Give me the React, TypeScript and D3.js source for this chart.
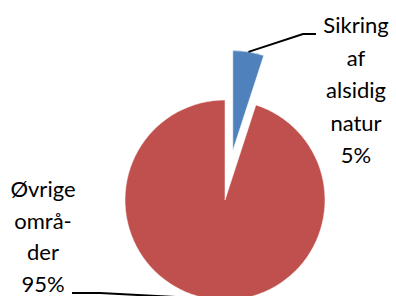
import React from "react";
import * as d3 from "d3";

const categories = ["Sikring af alsidig natur", "Øvrige områder"];
const values = [5, 95];
const percentLabels = ["5%", "95%"];
const labelLines = [
  ["Sikring", "af", "alsidig", "natur", "5%"],
  ["Øvrige", "områ-", "der", "95%"],
];
const colors = ["#4F81BD", "#C0504D"];

const W = 396;
const H = 296;
const cx = 225;
const cy = 200;
const R = 100;
const explode = 50;

export default function App() {
  const pie = d3
    .pie<number>()
    .sort(null)
    .startAngle(0)
    .endAngle(2 * Math.PI)(values);
  const arc = d3.arc<d3.PieArcDatum<number>>().innerRadius(0).outerRadius(R);

  const offsets = pie.map((d, i) => {
    const m = (d.startAngle + d.endAngle) / 2;
    const e = i === 0 ? explode : 0;
    return [Math.sin(m) * e, -Math.cos(m) * e];
  });

  const mid = (d: d3.PieArcDatum<number>) => (d.startAngle + d.endAngle) / 2;
  const edgePt = (i: number) => {
    const d = pie[i];
    const m = mid(d);
    return [cx + offsets[i][0] + Math.sin(m) * R, cy + offsets[i][1] - Math.cos(m) * R];
  };

  const p0 = edgePt(0);
  const p1 = edgePt(1);
  const font = "Lato, 'Open Sans', sans-serif";
  const fs = 22;
  const lh = 32.5;

  return (
    <svg
      width={W}
      height={H}
      style={{ position: "absolute", left: 0, top: 0, background: "#fff" }}
    >
      {pie.map((d, i) => (
        <path
          key={categories[i]}
          d={arc(d) || ""}
          transform={`translate(${cx + offsets[i][0]},${cy + offsets[i][1]})`}
          fill={colors[i]}
          stroke="#fff"
          strokeWidth={0.5}
        />
      ))}
      <polyline
        points={`${p0[0]},${p0[1]} 303,34 316,34`}
        fill="none"
        stroke="#000"
        strokeWidth={2}
      />
      <polyline
        points={`72,293 100,293 ${p1[0]},${p1[1]}`}
        fill="none"
        stroke="#000"
        strokeWidth={2}
      />
      {labelLines[0].map((t, j) => (
        <text
          key={"a" + j}
          x={356}
          y={33 + j * lh}
          textAnchor="middle"
          fontFamily={font}
          fontSize={fs}
          fill="#000"
        >
          {t}
        </text>
      ))}
      {labelLines[1].map((t, j) => (
        <text
          key={"b" + j}
          x={43}
          y={197 + j * 31.5}
          textAnchor="middle"
          fontFamily={font}
          fontSize={fs}
          fill="#000"
        >
          {t}
        </text>
      ))}
    </svg>
  );
}
